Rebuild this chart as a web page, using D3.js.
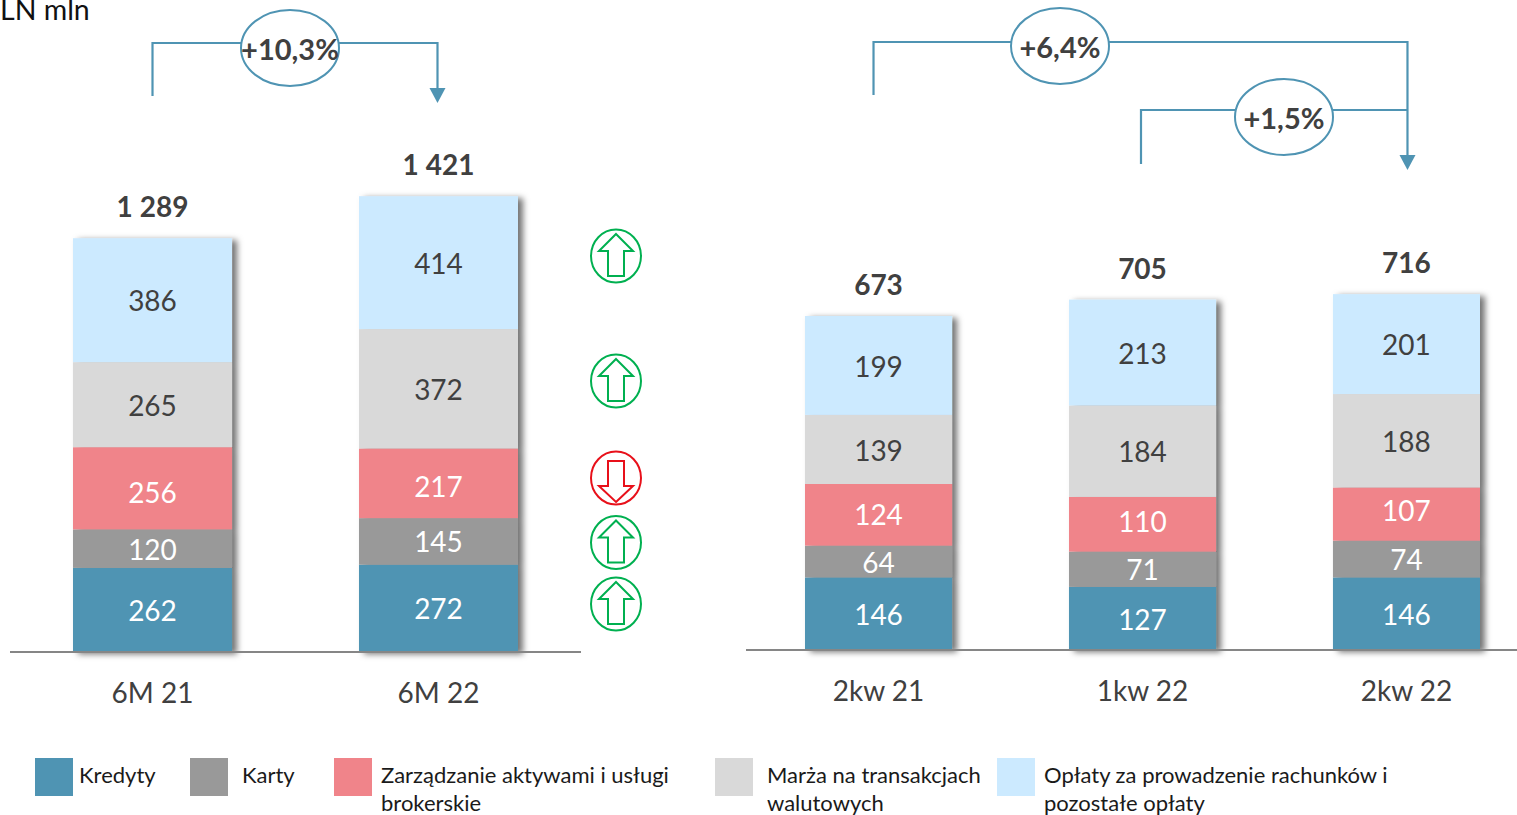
<!DOCTYPE html>
<html>
<head>
<meta charset="utf-8">
<script src="https://cdn.jsdelivr.net/npm/d3@7"></script>
<style>
  html, body { margin: 0; padding: 0; background: #fff; overflow: hidden; }
  svg { display: block; font-family: Lato, "Open Sans", sans-serif; }
</style>
</head>
<body>
<div id="chart"></div>
<script>
// Data
var leftCategories = ["6M 21", "6M 22"];
var rightCategories = ["2kw 21", "1kw 22", "2kw 22"];
var seriesKeys = ["kredyty", "karty", "zarzadzanie", "marza", "oplaty"];
var legendLabels = [
  ["Kredyty"],
  ["Karty"],
  ["Zarządzanie aktywami i usługi", "brokerskie"],
  ["Marża na transakcjach", "walutowych"],
  ["Opłaty za prowadzenie rachunków i", "pozostałe opłaty"]
];

var kredytyLeft = [262, 272];
var kartyLeft = [120, 145];
var zarzadzanieLeft = [256, 217];
var marzaLeft = [265, 372];
var oplatyLeft = [386, 414];
var totalsLeft = ["1 289", "1 421"];

var kredytyRight = [146, 127, 146];
var kartyRight = [64, 71, 74];
var zarzadzanieRight = [124, 110, 107];
var marzaRight = [139, 184, 188];
var oplatyRight = [199, 213, 201];
var totalsRight = ["673", "705", "716"];

// up or down marker for each series, 6M 22 against 6M 21 (bottom one first)
var changeDirections = ["up", "up", "down", "up", "up"];

// Colours, same order as seriesKeys
var seriesColors = ["#4f94b3", "#999999", "#f0848a", "#d9d9d9", "#cceaff"];
var labelColors = ["#ffffff", "#ffffff", "#ffffff", "#404040", "#404040"];
var lineColor = "#4f94b3";
var darkText = "#404040";

var svgWidth = 1517;
var svgHeight = 815;

var svg = d3.select("#chart")
  .append("svg")
  .attr("width", svgWidth)
  .attr("height", svgHeight);

// soft shadow on the right side of the bars
var shadow = svg.append("defs").append("filter")
  .attr("id", "barShadow")
  .attr("x", "-10%").attr("y", "-10%")
  .attr("width", "125%").attr("height", "125%");
shadow.append("feDropShadow")
  .attr("dx", 5).attr("dy", 2)
  .attr("stdDeviation", 3.2)
  .attr("flood-color", "#000")
  .attr("flood-opacity", 0.55);

// build rows for d3.stack from the small arrays
function makeRows(categories, a, b, c, d, e) {
  return categories.map(function(cat, i) {
    return { cat: cat, kredyty: a[i], karty: b[i], zarzadzanie: c[i], marza: d[i], oplaty: e[i] };
  });
}

var stack = d3.stack().keys(seriesKeys);

// draws one stacked chart, returns the scales for the annotations
function drawPanel(opts) {
  var x = d3.scaleBand()
    .domain(opts.categories)
    .range(opts.xRange)
    .paddingInner(opts.padding)
    .paddingOuter(0);
  var y = d3.scaleLinear()
    .domain([0, 1000])
    .range([opts.baseline, opts.baseline - opts.pxPer1000]);

  var g = svg.append("g");
  var layers = stack(opts.rows);

  // shadow is on the whole column, not on each segment
  g.selectAll("g.column")
    .data(opts.rows)
    .enter()
    .append("g")
    .attr("class", "column")
    .attr("filter", "url(#barShadow)")
    .each(function(row, rowIndex) {
      d3.select(this).selectAll("rect")
        .data(layers)
        .enter()
        .append("rect")
        .attr("x", x(row.cat))
        .attr("width", x.bandwidth())
        .attr("y", function(layer) { return y(layer[rowIndex][1]); })
        .attr("height", function(layer) { return y(layer[rowIndex][0]) - y(layer[rowIndex][1]); })
        .attr("fill", function(layer, i) { return seriesColors[i]; });
    });

  // baseline sits over the shadow
  g.append("line")
    .attr("x1", opts.axisExtent[0])
    .attr("x2", opts.axisExtent[1])
    .attr("y1", opts.baseline)
    .attr("y2", opts.baseline)
    .attr("stroke", "#868686")
    .attr("stroke-width", 2);

  // values inside the segments
  layers.forEach(function(layer, s) {
    g.selectAll("text.v" + s)
      .data(layer)
      .enter()
      .append("text")
      .attr("class", "v" + s)
      .attr("x", function(d) { return x(d.data.cat) + x.bandwidth() / 2; })
      .attr("y", function(d, i) {
        var nudge = s === 2 ? opts.pinkNudge[i] : 0;
        return (y(d[0]) + y(d[1])) / 2 + 1 + nudge;
      })
      .attr("dy", "0.36em")
      .attr("text-anchor", "middle")
      .attr("font-size", 28)
      .attr("fill", labelColors[s])
      .text(function(d) { return d.data[seriesKeys[s]]; });
  });

  // totals above the columns
  g.selectAll("text.total")
    .data(opts.rows)
    .enter()
    .append("text")
    .attr("class", "total")
    .attr("x", function(d) { return x(d.cat) + x.bandwidth() / 2; })
    .attr("y", function(d) { return y(d3.sum(seriesKeys, function(k) { return d[k]; })) - 31; })
    .attr("dy", "0.36em")
    .attr("text-anchor", "middle")
    .attr("font-size", 28)
    .attr("font-weight", 700)
    .attr("fill", darkText)
    .text(function(d, i) { return opts.totals[i]; });

  // category labels
  var axis = g.append("g")
    .attr("transform", "translate(0," + opts.baseline + ")")
    .call(d3.axisBottom(x).tickSize(0).tickPadding(31));
  axis.select(".domain").remove();
  axis.selectAll("text")
    .attr("font-family", "Lato, sans-serif")
    .attr("font-size", 28)
    .attr("fill", darkText);

  return { x: x, y: y };
}

var left = drawPanel({
  categories: leftCategories,
  rows: makeRows(leftCategories, kredytyLeft, kartyLeft, zarzadzanieLeft, marzaLeft, oplatyLeft),
  totals: totalsLeft,
  xRange: [73, 518],
  padding: 0.444,
  baseline: 652,
  pxPer1000: 321,
  axisExtent: [10, 581],
  pinkNudge: [4, 3]
});

var right = drawPanel({
  categories: rightCategories,
  rows: makeRows(rightCategories, kredytyRight, kartyRight, zarzadzanieRight, marzaRight, oplatyRight),
  totals: totalsRight,
  xRange: [805, 1480],
  padding: 0.443,
  baseline: 650,
  pxPer1000: 497,
  axisExtent: [746, 1517],
  pinkNudge: [-1, -3, -4]
});

function centerOf(panel, cat) {
  return panel.x(cat) + panel.x.bandwidth() / 2;
}

// growth brackets with the oval in the middle
function drawBracket(x0, x1, yTop, yStart, yEnd, ovalX, ovalY, label) {
  svg.append("path")
    .attr("d", d3.line()([[x0, yStart], [x0, yTop], [x1, yTop], [x1, yEnd]]))
    .attr("fill", "none")
    .attr("stroke", lineColor)
    .attr("stroke-width", 2.2);
  svg.append("ellipse")
    .attr("cx", ovalX).attr("cy", ovalY)
    .attr("rx", 49).attr("ry", 38)
    .attr("fill", "#fff")
    .attr("stroke", lineColor)
    .attr("stroke-width", 2);
  svg.append("text")
    .attr("x", ovalX).attr("y", ovalY + 2)
    .attr("dy", "0.36em")
    .attr("text-anchor", "middle")
    .attr("font-size", 29)
    .attr("font-weight", 700)
    .attr("fill", darkText)
    .text(label);
}

function drawArrowHead(x, tipY) {
  svg.append("path")
    .attr("d", d3.line()([[x - 8, tipY - 15], [x + 8, tipY - 15], [x, tipY]]) + "Z")
    .attr("fill", lineColor);
}

drawBracket(centerOf(left, "6M 21"), centerOf(left, "6M 22") - 1, 43, 96, 90, 290, 48, "+10,3%");
drawArrowHead(centerOf(left, "6M 22") - 1, 103);

drawBracket(centerOf(right, "2kw 21") - 5, centerOf(right, "2kw 22") + 1, 42, 95, 157, 1060, 46, "+6,4%");
drawBracket(centerOf(right, "1kw 22") - 1.5, centerOf(right, "2kw 22") + 1, 110, 164, 110, 1284, 117, "+1,5%");
drawArrowHead(centerOf(right, "2kw 22") + 1, 170);

// up / down markers between the charts
var iconX = 616;
var iconYs = [604, 542.5, 478, 381, 256];
var upArrow = [[0, -22], [17, -5], [8, -5], [8, 20], [-8, 20], [-8, -5], [-17, -5]];
var downArrow = [[0, 24], [17, 8], [8, 8], [8, -17], [-8, -17], [-8, 8], [-17, 8]];

var icons = svg.selectAll("g.icon")
  .data(changeDirections)
  .enter()
  .append("g")
  .attr("class", "icon")
  .attr("transform", function(d, i) { return "translate(" + iconX + "," + iconYs[i] + ")"; });
icons.append("ellipse")
  .attr("rx", 25).attr("ry", 26.5)
  .attr("fill", "none")
  .attr("stroke", function(d) { return d === "up" ? "#00b050" : "#e8101a"; })
  .attr("stroke-width", 2);
icons.append("path")
  .attr("d", function(d) { return d3.line()(d === "up" ? upArrow : downArrow) + "Z"; })
  .attr("fill", "none")
  .attr("stroke", function(d) { return d === "up" ? "#00b050" : "#e8101a"; })
  .attr("stroke-width", 2);

// unit label, cut by the top left corner like in the original
svg.append("text")
  .attr("x", 0).attr("y", 20)
  .attr("font-size", 28.5)
  .attr("fill", "#111")
  .text("LN mln");

// legend
var swatchXs = [35, 190, 334, 715, 997];
var legendTextXs = [79, 242, 381, 767, 1044];

var legend = svg.selectAll("g.legend")
  .data(legendLabels)
  .enter()
  .append("g")
  .attr("class", "legend");
legend.append("rect")
  .attr("x", function(d, i) { return swatchXs[i]; })
  .attr("y", 758)
  .attr("width", 38)
  .attr("height", 38)
  .attr("fill", function(d, i) { return seriesColors[i]; });
legend.each(function(lines, i) {
  d3.select(this).selectAll("text")
    .data(lines)
    .enter()
    .append("text")
    .attr("x", legendTextXs[i])
    .attr("y", function(d, n) { return 783 + n * 28; })
    .attr("font-size", 22)
    .attr("fill", "#1a1a1a")
    .text(function(d) { return d; });
});
</script>
</body>
</html>
